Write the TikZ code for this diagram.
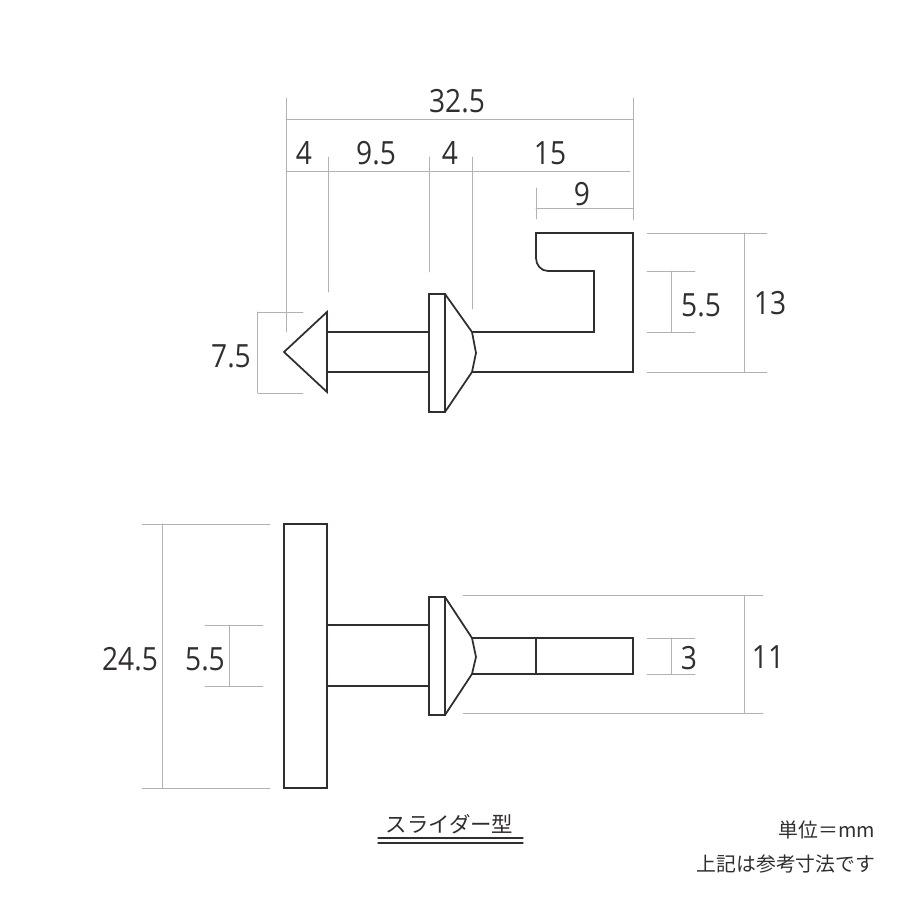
\documentclass[tikz,border=0pt]{standalone}
\usepackage{fontspec}
\setmainfont[FakeStretch=0.88]{Open Sans}
\newfontfamily\jpfont{Noto Sans CJK JP}
\usepackage{tkz-euclide}
\definecolor{PartClr}{rgb}{0.2,0.18,0.18}
\definecolor{DimClr}{rgb}{0.7,0.7,0.7}
\tikzset{
  DimTxt/.style={inner sep=0pt,text=PartClr,font=\fontsize{9.1}{9.1}\selectfont},
  NoteTxt/.style={inner sep=0pt,text=PartClr,font=\jpfont\fontsize{5.65}{5.65}\selectfont},
  DimLine/.style={line width=0.25pt,color=DimClr},
  PartLine/.style={line width=0.5pt,color=PartClr,line join=miter}
}

\begin{document}
\begin{tikzpicture}
\useasboundingbox (0,0) rectangle (9,9);

% upper view
\tkzDefPoints{2.84/5.48/A,3.27/5.88/B,3.27/5.08/C,3.27/5.68/D,3.27/5.28/E}
\tkzDefPoints{4.29/5.68/F,4.29/5.28/G,4.29/6.06/H,4.45/6.06/I,4.45/4.88/J,4.29/4.88/K}
\tkzDefPoints{4.72/5.68/L,4.76/5.47/M,4.72/5.28/N}
\tkzDefPoints{5.94/5.68/P,5.94/6.29/Q,5.48/6.29/R,5.36/6.42/S,5.36/6.67/T,6.33/6.67/U,6.33/5.28/V}

\tkzDrawPolygon[PartLine](A,B,C)
\tkzDrawSegments[PartLine](D,F E,G)
\tkzDrawPolygon[PartLine](H,I,J,K)
\tkzDrawPolySeg[PartLine](I,L,M,N,J)
\draw[PartLine] (L)--(P)--(Q)--(R) .. controls (5.41,6.29) and (5.36,6.35) .. (S)--(T)--(U)--(V)--(N);

% lower view
\tkzDefPoints{2.84/1.12/a,3.27/1.12/b,3.27/3.76/c,2.84/3.76/d}
\tkzDefPoints{3.27/2.75/e,3.27/2.14/f,4.29/2.75/g,4.29/2.14/h}
\tkzDefPoints{4.29/3.03/i,4.45/3.03/j,4.45/1.85/k,4.29/1.85/l}
\tkzDefPoints{4.72/2.62/m,4.76/2.43/n,4.72/2.26/o}
\tkzDefPoints{6.33/2.62/p,6.33/2.26/q,5.36/2.62/r,5.36/2.26/s}

\tkzDrawPolygon[PartLine](a,b,c,d)
\tkzDrawSegments[PartLine](e,g f,h r,s)
\tkzDrawPolygon[PartLine](i,j,k,l)
\tkzDrawPolySeg[PartLine](j,m,n,o,k)
\tkzDrawPolySeg[PartLine](m,p,q,o)

% dimension lines, upper view
\tkzDefPoints{2.86/8.02/Aa,2.86/5.68/Ab,6.33/8.02/Ac,6.33/6.80/Ad,2.86/7.81/Ae,6.33/7.81/Af}
\tkzDefPoints{3.28/7.43/Ba,3.28/6.08/Bb,4.29/7.43/Bc,4.29/6.28/Bd,4.72/7.43/Be,4.72/5.91/Bf}
\tkzDefPoints{2.86/7.29/Ca,6.30/7.29/Cb,5.36/7.12/Da,5.36/6.81/Db,5.36/6.92/Dc,6.33/6.92/Dd}
\tkzDefPoints{6.47/6.67/Ea,7.67/6.67/Eb,6.47/5.28/Ec,7.67/5.28/Ed,7.44/6.67/Ee,7.44/5.28/Ef}
\tkzDefPoints{6.47/6.29/Fa,6.95/6.29/Fb,6.47/5.68/Fc,6.95/5.68/Fd,6.71/6.29/Fe,6.71/5.68/Ff}
\tkzDefPoints{2.58/5.88/Ga,3.03/5.88/Gb,2.58/5.07/Gc,3.03/5.07/Gd,2.57/5.88/Ge,2.57/5.07/Gf}
\tkzDrawSegments[DimLine](Aa,Ab Ac,Ad Ae,Af Ba,Bb Bc,Bd Be,Bf Ca,Cb Da,Db Dc,Dd)
\tkzDrawSegments[DimLine](Ea,Eb Ec,Ed Ee,Ef Fa,Fb Fc,Fd Fe,Ff Ga,Gb Gc,Gd Ge,Gf)

% dimension lines, lower view
\tkzDefPoints{1.42/3.76/Ha,2.70/3.76/Hb,1.42/1.12/Hc,2.70/1.12/Hd,1.62/3.76/He,1.62/1.12/Hf}
\tkzDefPoints{2.05/2.75/Ia,2.63/2.75/Ib,2.05/2.14/Ic,2.63/2.14/Id,2.29/2.75/Ie,2.29/2.14/If}
\tkzDefPoints{4.63/3.05/Ja,7.63/3.05/Jb,4.63/1.87/Jc,7.63/1.87/Jd,7.44/3.05/Je,7.44/1.87/Jf}
\tkzDefPoints{6.47/2.62/Ka,6.95/2.62/Kb,6.47/2.26/Kc,6.95/2.26/Kd,6.71/2.62/Ke,6.71/2.26/Kf}
\tkzDrawSegments[DimLine](Ha,Hb Hc,Hd He,Hf Ia,Ib Ic,Id Ie,If Ja,Jb Jc,Jd Je,Jf Ka,Kb Kc,Kd Ke,Kf)

% title rule
\tkzDefPoints{3.78/0.62/Ta,5.23/0.62/Tb,3.78/0.57/Tc,5.23/0.57/Td}
\tkzDrawSegments[line width=0.35pt,color=PartClr](Ta,Tb Tc,Td)

\node[DimTxt] (lblTotal) at (4.57,7.99) {32.5};
\node[DimTxt] (lblTip) at (3.04,7.47) {4};
\node[DimTxt] (lblShaft) at (3.76,7.47) {9.5};
\node[DimTxt] (lblCone) at (4.50,7.47) {4};
\node[DimTxt] (lblStem) at (5.50,7.47) {15};
\node[DimTxt] (lblHook) at (5.82,7.06) {9};
\node[DimTxt] (lblGap) at (7.01,5.95) {5.5};
\node[DimTxt] (lblDepth) at (7.70,5.97) {13};
\node[DimTxt] (lblArrow) at (2.31,5.44) {7.5};
\node[DimTxt] (lblPlate) at (1.30,2.41) {24.5};
\node[DimTxt] (lblNeck) at (2.05,2.41) {5.5};
\node[DimTxt] (lblFlat) at (6.89,2.42) {3};
\node[DimTxt] (lblFlange) at (7.68,2.43) {11};
\node[NoteTxt,font=\jpfont\fontsize{6.1}{6.1}\selectfont] (lblType) at (4.495,0.76) {スライダー型};
\node[NoteTxt,anchor=east] (lblUnit) at (8.76,0.70) {単位＝mm};
\node[NoteTxt,anchor=east] (lblNote) at (8.76,0.36) {上記は参考寸法です};
\end{tikzpicture}
\end{document}
